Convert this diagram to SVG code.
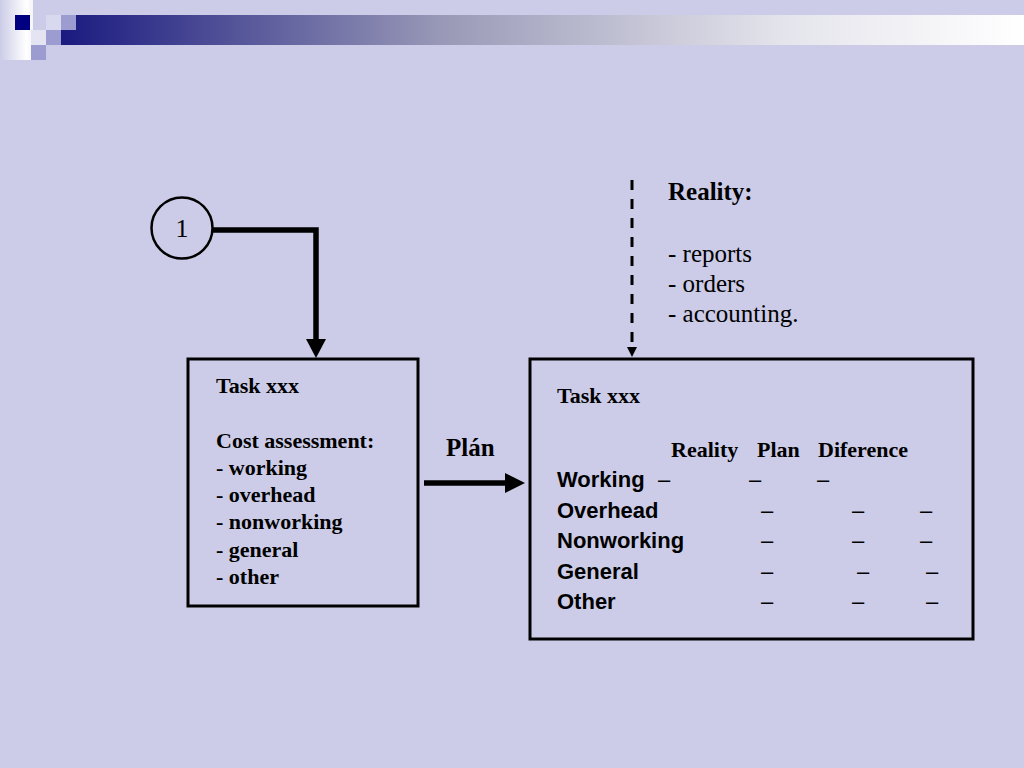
<svg xmlns="http://www.w3.org/2000/svg" width="1024" height="768" viewBox="0 0 1024 768">
  <defs>
    <linearGradient id="bar" x1="61" y1="0" x2="1024" y2="0" gradientUnits="userSpaceOnUse">
      <stop offset="0" stop-color="#1a1a80"/>
      <stop offset="0.4" stop-color="#9a9ab8"/>
      <stop offset="0.75" stop-color="#e4e4ec"/>
      <stop offset="1" stop-color="#ffffff"/>
    </linearGradient>
    <linearGradient id="strip" x1="0" y1="0" x2="1" y2="0">
      <stop offset="0" stop-color="#ccccE8"/>
      <stop offset="0.8" stop-color="#ffffff"/>
      <stop offset="1" stop-color="#f4f4fa"/>
    </linearGradient>
  </defs>
  <style>
    .box { fill: none; stroke: #000; stroke-width: 3; }
    .tb { font-family: "Liberation Serif", "Times New Roman", serif; font-weight: bold; font-size: 22px; fill: #000; }
    .tbl { font-family: "Liberation Serif", "Times New Roman", serif; font-weight: bold; font-size: 25px; fill: #000; }
    .tr { font-family: "Liberation Serif", "Times New Roman", serif; font-size: 25px; fill: #000; }
    .ab { font-family: "Liberation Sans", Arial, sans-serif; font-weight: bold; font-size: 22px; fill: #000; }
    .dash { font-family: "Liberation Sans", Arial, sans-serif; font-size: 22px; fill: #000; }
    .conn { fill: none; stroke: #000; }
    .head { fill: #000; }
  </style>

  <rect x="0" y="0" width="1024" height="768" fill="#ccccE8"/>

  <g id="header-decoration">
    <rect x="0" y="0" width="33" height="60" fill="url(#strip)"/>
    <rect x="76" y="15" width="948" height="15" fill="url(#bar)"/>
    <rect x="61" y="30" width="963" height="15" fill="url(#bar)"/>
    <rect x="15" y="15" width="15" height="15" fill="#000080"/>
    <rect x="31" y="30" width="15" height="15" fill="#e4e4f2"/>
    <rect x="46" y="15" width="15" height="15" fill="#d8d8ee"/>
    <rect x="61" y="15" width="15" height="15" fill="#9c9cd0"/>
    <rect x="46" y="30" width="15" height="15" fill="#9c9cd0"/>
    <rect x="31" y="45" width="15" height="15" fill="#9c9cd0"/>
  </g>

  <g id="connectors">
    <path class="conn" d="M213,230 H316 V341" stroke-width="5.5" stroke-linejoin="miter"/>
    <path class="head" d="M306,339 L326,339 L316,358 Z"/>
    <path class="conn" d="M424,483 H507" stroke-width="5.5"/>
    <path class="head" d="M505,473 L505,493 L525,483 Z"/>
    <path class="conn" d="M632,180 V347" stroke-width="3" stroke-dasharray="10,9"/>
    <path class="head" d="M627,347 L637,347 L632,357 Z"/>
  </g>

  <g id="node-1">
    <circle cx="182" cy="228" r="30.5" fill="none" stroke="#000" stroke-width="2.5"/>
    <text x="182" y="237" text-anchor="middle" class="tr" style="font-size:26px">1</text>
  </g>

  <g id="label-plan">
    <text x="446" y="456" class="tbl">Plán</text>
  </g>

  <g id="note-reality">
    <text x="668" y="200" class="tbl">Reality:</text>
    <text x="668" y="262" class="tr">- reports</text>
    <text x="668" y="292" class="tr">- orders</text>
    <text x="668" y="322" class="tr">- accounting.</text>
  </g>

  <g id="node-plan-task">
    <rect class="box" x="188" y="359" width="230" height="247"/>
    <text x="216" y="393" class="tb">Task xxx</text>
    <text x="216" y="448" class="tb">Cost assessment:</text>
    <text x="216" y="475" class="tb">- working</text>
    <text x="216" y="502" class="tb">- overhead</text>
    <text x="216" y="529" class="tb">- nonworking</text>
    <text x="216" y="557" class="tb">- general</text>
    <text x="216" y="584" class="tb">- other</text>
  </g>

  <g id="node-reality-task">
    <rect class="box" x="530" y="359" width="443" height="280"/>
    <text x="557" y="403" class="tb">Task xxx</text>
    <text x="671" y="457" class="tb">Reality</text>
    <text x="757" y="457" class="tb">Plan</text>
    <text x="818" y="457" class="tb">Diference</text>

    <text x="557" y="487" class="ab">Working</text>
    <text x="658" y="487" class="dash">–</text>
    <text x="749" y="487" class="dash">–</text>
    <text x="817" y="487" class="dash">–</text>

    <text x="557" y="518" class="ab">Overhead</text>
    <text x="761" y="518" class="dash">–</text>
    <text x="852" y="518" class="dash">–</text>
    <text x="920" y="518" class="dash">–</text>

    <text x="557" y="548" class="ab">Nonworking</text>
    <text x="761" y="548" class="dash">–</text>
    <text x="852" y="548" class="dash">–</text>
    <text x="920" y="548" class="dash">–</text>

    <text x="557" y="579" class="ab">General</text>
    <text x="761" y="579" class="dash">–</text>
    <text x="857" y="579" class="dash">–</text>
    <text x="926" y="579" class="dash">–</text>

    <text x="557" y="609" class="ab">Other</text>
    <text x="761" y="609" class="dash">–</text>
    <text x="852" y="609" class="dash">–</text>
    <text x="926" y="609" class="dash">–</text>
  </g>
</svg>
